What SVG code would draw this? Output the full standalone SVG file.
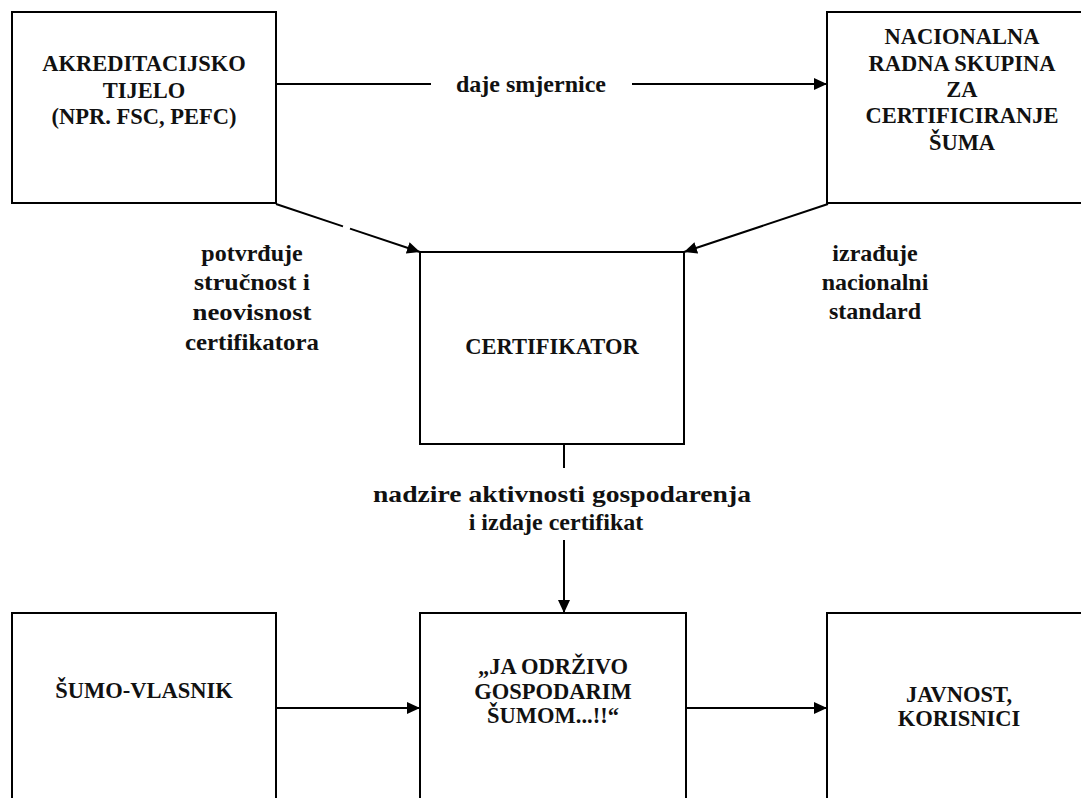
<svg xmlns="http://www.w3.org/2000/svg" width="1081" height="798" viewBox="0 0 1081 798">
  <defs>
    <marker id="arr" markerUnits="userSpaceOnUse" markerWidth="14" markerHeight="12" refX="13" refY="6" orient="auto">
      <path d="M0,0 L13,6 L0,12 z" fill="#000"/>
    </marker>
    <style>
      .box { fill: #fff; stroke: #000; stroke-width: 2; }
      .t { font-family: "Liberation Serif", "DejaVu Serif", serif; font-weight: bold; font-size: 22.5px; fill: #111; text-anchor: middle; }
      .l { font-family: "Liberation Serif", "DejaVu Serif", serif; font-weight: bold; font-size: 24px; fill: #111; text-anchor: middle; }
      .c { fill: none; stroke: #000; stroke-width: 2; }
    </style>
  </defs>
  <rect width="1081" height="798" fill="#fff"/>

  <g id="connectors">
    <line class="c" x1="276" y1="84" x2="431" y2="84"/>
    <line class="c" x1="632" y1="84" x2="827" y2="84" marker-end="url(#arr)"/>
    <line class="c" x1="276" y1="204" x2="420" y2="252" stroke-dasharray="70.6 7.4 200" marker-end="url(#arr)"/>
    <line class="c" x1="828" y1="204" x2="684" y2="252" marker-end="url(#arr)"/>
    <line class="c" x1="564" y1="444" x2="564" y2="468"/>
    <line class="c" x1="564" y1="540" x2="564" y2="613" marker-end="url(#arr)"/>
    <line class="c" x1="276" y1="708" x2="420" y2="708" marker-end="url(#arr)"/>
    <line class="c" x1="686" y1="708" x2="827" y2="708" marker-end="url(#arr)"/>
    <text class="l" x="531" y="92">daje smjernice</text>
    <text class="l" x="252" y="261">potvrđuje</text>
    <text class="l" x="252" y="290" textLength="116" lengthAdjust="spacingAndGlyphs">stručnost i</text>
    <text class="l" x="252" y="320" textLength="119" lengthAdjust="spacingAndGlyphs">neovisnost</text>
    <text class="l" x="252" y="350" textLength="134" lengthAdjust="spacingAndGlyphs">certifikatora</text>
    <text class="l" x="875" y="261">izrađuje</text>
    <text class="l" x="875" y="290">nacionalni</text>
    <text class="l" x="875" y="319">standard</text>
    <text class="l" x="562" y="502" textLength="378" lengthAdjust="spacingAndGlyphs">nadzire aktivnosti gospodarenja</text>
    <text class="l" x="556" y="530">i izdaje certifikat</text>
  </g>

  <g id="akreditacijsko">
    <rect class="box" x="12" y="12" width="264" height="191"/>
    <text class="t" x="144" y="71">AKREDITACIJSKO</text>
    <text class="t" x="144" y="98">TIJELO</text>
    <text class="t" x="144" y="124">(NPR. FSC, PEFC)</text>
  </g>

  <g id="nacionalna">
    <rect class="box" x="827" y="12" width="270" height="191"/>
    <text class="t" x="962" y="44">NACIONALNA</text>
    <text class="t" x="962" y="71">RADNA SKUPINA</text>
    <text class="t" x="962" y="97">ZA</text>
    <text class="t" x="962" y="123">CERTIFICIRANJE</text>
    <text class="t" x="962" y="150">ŠUMA</text>
  </g>

  <g id="certifikator">
    <rect class="box" x="420" y="252" width="264" height="192"/>
    <text class="t" x="552" y="354">CERTIFIKATOR</text>
  </g>

  <g id="sumovlasnik">
    <rect class="box" x="12" y="613" width="264" height="200"/>
    <text class="t" x="144" y="698">ŠUMO-VLASNIK</text>
  </g>

  <g id="odrzivo">
    <rect class="box" x="420" y="613" width="266" height="200"/>
    <text class="t" x="553" y="674">„JA ODRŽIVO</text>
    <text class="t" x="553" y="699">GOSPODARIM</text>
    <text class="t" x="553" y="723">ŠUMOM...!!“</text>
  </g>

  <g id="javnost">
    <rect class="box" x="827" y="613" width="270" height="200"/>
    <text class="t" x="959" y="702">JAVNOST,</text>
    <text class="t" x="959" y="726">KORISNICI</text>
  </g>
</svg>
